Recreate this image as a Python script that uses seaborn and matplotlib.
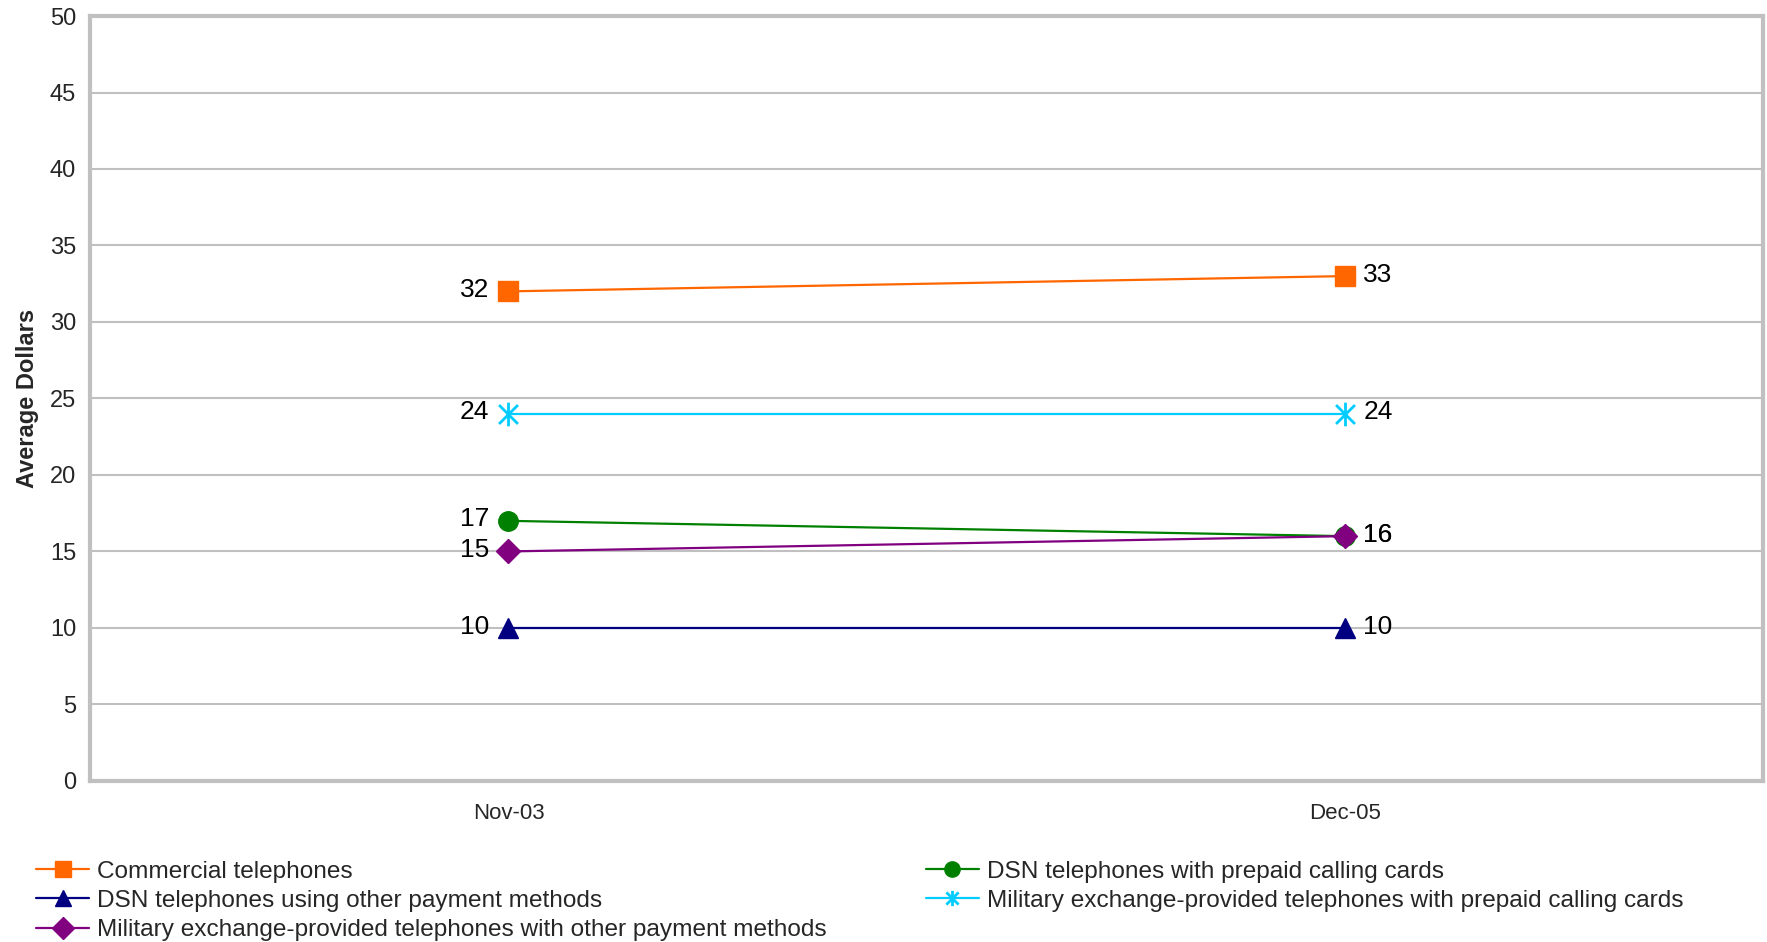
import numpy as np
import pandas as pd
import matplotlib
matplotlib.use("Agg")
import matplotlib.pyplot as plt
from matplotlib.path import Path
import seaborn as sns

periods = ["Nov-03", "Dec-05"]
series_names = [
    "Commercial telephones",
    "DSN telephones with prepaid calling cards",
    "DSN telephones using other payment methods",
    "Military exchange-provided telephones with prepaid calling cards",
    "Military exchange-provided telephones with other payment methods",
]
commercial = [32, 33]
dsn_prepaid = [17, 16]
dsn_other = [10, 10]
mil_prepaid = [24, 24]
mil_other = [15, 16]
y_ticks = [0, 5, 10, 15, 20, 25, 30, 35, 40, 45, 50]

values = [commercial, dsn_prepaid, dsn_other, mil_prepaid, mil_other]
colors = ["#FF6600", "#008000", "#000080", "#00CCFF", "#800080"]

star = Path([(0, -1), (0, 1), (-0.8, -0.8), (0.8, 0.8), (-0.8, 0.8), (0.8, -0.8)],
            [Path.MOVETO, Path.LINETO, Path.MOVETO, Path.LINETO, Path.MOVETO, Path.LINETO])
markers = ["s", "o", "^", star, "D"]
msizes = [14, 14, 15, 17, 12]

sns.set_theme(style="white")
plt.rcParams["font.family"] = ["Liberation Sans", "DejaVu Sans"]

fig = plt.figure(figsize=(17.67, 9.42), dpi=100)
ax = fig.add_axes([0.051, 0.171, 0.947, 0.812])

rows = []
for name, vals in zip(series_names, values):
    for p, v in zip(periods, vals):
        rows.append({"period": p, "value": v, "series": name})
df = pd.DataFrame(rows)

handles = {}
for i, (name, col, mk, ms) in enumerate(zip(series_names, colors, markers, msizes)):
    sub = df[df["series"] == name]
    sns.lineplot(data=sub, x="period", y="value", ax=ax, color=col, linewidth=1.6,
                 legend=False, sort=False)
    line = ax.lines[-1]
    line.set_marker(mk)
    line.set_markersize(ms)
    line.set_markerfacecolor(col)
    line.set_markeredgecolor(col)
    line.set_markeredgewidth(2.0 if mk is star else 1.0)
    line.set_zorder(3 + i * 0.1)
    handles[name] = line
    vals = sub["value"].tolist()
    ax.annotate(f"{vals[0]}", (0, vals[0]), xytext=(-14, 1), textcoords="offset points",
                ha="right", va="center", fontsize=19, color="black")
    ax.annotate(f"{vals[1]}", (1, vals[1]), xytext=(13, 1), textcoords="offset points",
                ha="left", va="center", fontsize=19, color="black")

ax.set_xlim(-0.5, 1.5)
ax.set_ylim(0, 50)
ax.set_yticks(y_ticks)
ax.set_yticklabels([str(t) for t in y_ticks], fontsize=17)
ax.set_xticks([0, 1])
ax.set_xticklabels(periods, fontsize=16)
ax.set_xticks([-0.5, 0.5, 1.5], minor=True)
ax.tick_params(axis="x", which="major", length=0, pad=16)
ax.tick_params(axis="x", which="minor", length=6, width=3, color="#C0C0C0", direction="out")
ax.tick_params(axis="y", which="major", length=6, width=3, color="#C0C0C0", direction="out", pad=4)
ax.grid(axis="y", color="#C0C0C0", linewidth=1.5)
ax.set_axisbelow(True)
for s in ax.spines.values():
    s.set_visible(True)
    s.set_color("#C0C0C0")
    s.set_linewidth(3)
ax.set_xlabel("")
ax.set_ylabel("Average Dollars", fontsize=17, fontweight="bold", labelpad=8)

order = [series_names[0], series_names[2], series_names[4], series_names[1], series_names[3]]
leg = fig.legend([handles[n] for n in order], order, loc="upper left",
                 bbox_to_anchor=(0.015, 0.097), ncol=2, frameon=False, fontsize=17.6,
                 handlelength=2.15, handletextpad=0.35, labelspacing=0.3, columnspacing=4.05,
                 borderaxespad=0)
for h in leg.legend_handles:
    h.set_markersize(11)

fig.savefig("out.png", dpi=100)
